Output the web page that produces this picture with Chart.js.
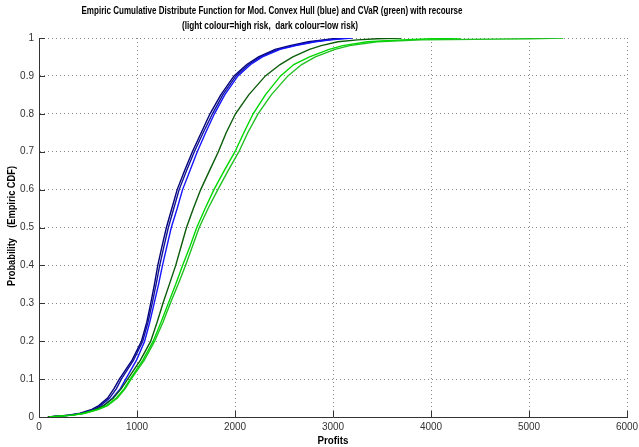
<!DOCTYPE html>
<html>
<head>
<meta charset="utf-8">
<script src="https://cdn.jsdelivr.net/npm/chart.js@4/dist/chart.umd.min.js"></script>
<style>
  html, body { margin: 0; padding: 0; background: #fff; }
  #wrap { width: 639px; height: 447px; position: relative; }
</style>
</head>
<body>
<div id="wrap"><canvas id="c" width="639" height="447"></canvas></div>
<script>
// Probability levels (empirical CDF heights)
const probs = [0, 0.005, 0.01, 0.02, 0.03, 0.05, 0.075, 0.1, 0.15, 0.2, 0.25, 0.3, 0.35, 0.4, 0.45, 0.5,
               0.55, 0.6, 0.65, 0.7, 0.75, 0.8, 0.85, 0.9, 0.93, 0.95, 0.97, 0.98, 0.99, 0.995, 0.998, 1];

// Profits at which each curve reaches the level above
const blueDark1  = [90, 300, 420, 540, 610, 700, 765, 820, 950, 1045, 1100, 1140, 1178, 1212, 1255, 1300,
                    1355, 1410, 1485, 1565, 1655, 1745, 1855, 1990, 2120, 2240, 2410, 2560, 2750, 2900, 3000, 3100];
const blueDark2  = [100, 320, 440, 560, 630, 720, 790, 840, 965, 1058, 1112, 1155, 1195, 1232, 1275, 1320,
                    1375, 1430, 1505, 1585, 1675, 1770, 1875, 2010, 2140, 2260, 2440, 2600, 2800, 2950, 3050, 3150];
const blueLight  = [110, 330, 450, 580, 660, 750, 830, 885, 995, 1078, 1130, 1175, 1220, 1260, 1305, 1350,
                    1410, 1465, 1540, 1615, 1700, 1790, 1895, 2030, 2160, 2280, 2460, 2620, 2820, 2980, 3100, 3200];
const greenDark  = [90, 330, 450, 580, 660, 760, 840, 905, 1035, 1140, 1205, 1265, 1330, 1395, 1450, 1505,
                    1575, 1650, 1740, 1830, 1910, 2005, 2140, 2310, 2460, 2590, 2760, 2880, 3050, 3250, 3450, 3700];
const greenLight1 = [100, 340, 460, 600, 690, 790, 870, 930, 1060, 1165, 1245, 1320, 1395, 1465, 1540, 1610,
                    1695, 1785, 1890, 2000, 2090, 2185, 2310, 2465, 2600, 2760, 2960, 3100, 3350, 3700, 4000, 4300];
const greenLight2 = [110, 350, 470, 610, 700, 800, 880, 940, 1075, 1180, 1265, 1340, 1420, 1495, 1565, 1635,
                    1725, 1825, 1930, 2040, 2130, 2235, 2370, 2540, 2680, 2820, 3020, 3170, 3450, 3900, 5000, 5350];

const xTickValues = [0, 1000, 2000, 3000, 4000, 5000, 6000];
const yTickValues = [0, 0.1, 0.2, 0.3, 0.4, 0.5, 0.6, 0.7, 0.8, 0.9, 1];

const titleLine1 = 'Empiric Cumulative Distribute Function for Mod. Convex Hull (blue) and CVaR (green) with recourse';
const titleLine2 = '(light colour=high risk,  dark colour=low risk)';
const xTitle = 'Profits';
const yTitle = 'Probability    (Empiric CDF)';

function pts(xs) { return xs.map((x, i) => ({ x: x, y: probs[i] })); }

function ds(label, xs, color) {
  return { label, data: pts(xs), borderColor: color, backgroundColor: color,
           borderWidth: 1.4, pointRadius: 0, fill: false, tension: 0 };
}

const FONT = '"Liberation Sans", Arial, sans-serif';

const decor = {
  id: 'decor',
  afterDraw(chart) {
    const ctx = chart.ctx;
    const xs = chart.scales.x, ys = chart.scales.y;
    const ca = chart.chartArea;
    ctx.save();
    // inward tick marks
    ctx.strokeStyle = '#333';
    ctx.lineWidth = 1;
    ctx.beginPath();
    xTickValues.forEach(v => {
      const px = Math.round(xs.getPixelForValue(v)) + 0.5;
      ctx.moveTo(px, ca.bottom); ctx.lineTo(px, ca.bottom - 6);
    });
    yTickValues.forEach(v => {
      const py = Math.round(ys.getPixelForValue(v)) + 0.5;
      ctx.moveTo(ca.left, py); ctx.lineTo(ca.left + 6, py);
    });
    ctx.stroke();
    // titles
    ctx.fillStyle = '#000';
    ctx.textAlign = 'center';
    ctx.textBaseline = 'alphabetic';
    ctx.font = 'bold 11px ' + FONT;
    ctx.fillText(titleLine1, 272, 14, 381);
    ctx.fillText(titleLine2, 270, 29, 176);
    ctx.font = 'bold 10px ' + FONT;
    ctx.fillText(xTitle, 333, 444, 31);
    ctx.translate(15, 226);
    ctx.rotate(-Math.PI / 2);
    ctx.fillText(yTitle, 0, 0, 120);
    ctx.restore();
  }
};

new Chart(document.getElementById('c'), {
  type: 'line',
  data: {
    datasets: [
      ds('CVaR high risk 1', greenLight1, '#00d800'),
      ds('CVaR high risk 2', greenLight2, '#20c020'),
      ds('CVaR low risk', greenDark, '#0a5c0a'),
      ds('MCH high risk', blueLight, '#1414ff'),
      ds('MCH low risk 2', blueDark2, '#10109a'),
      ds('MCH low risk 1', blueDark1, '#000078')
    ]
  },
  options: {
    responsive: false,
    animation: false,
    layout: { padding: { top: 38, right: 12, left: 0, bottom: 0 } },
    plugins: { legend: { display: false }, title: { display: false }, tooltip: { enabled: false } },
    scales: {
      x: {
        type: 'linear', min: 0, max: 6000,
        afterFit(s) { s.height = 30; s.paddingRight = 0; s.paddingLeft = 0; },
        afterBuildTicks(s) { s.ticks = xTickValues.map(v => ({ value: v })); },
        ticks: { font: { family: FONT, size: 10 }, color: '#333', padding: 4, maxRotation: 0,
                 callback: v => String(v) },
        grid: { color: '#888', lineWidth: 1, drawTicks: false, tickLength: 0 },
        border: { display: true, color: '#333', width: 1, dash: [1, 3] },
        title: { display: false }
      },
      y: {
        type: 'linear', min: 0, max: 1,
        afterFit(s) { s.width = 39; s.paddingTop = 0; s.paddingBottom = 0; },
        afterBuildTicks(s) { s.ticks = yTickValues.map(v => ({ value: v })); },
        ticks: { font: { family: FONT, size: 10 }, color: '#333', padding: 5,
                 callback: v => String(Math.round(v * 10) / 10) },
        grid: { color: '#888', lineWidth: 1, drawTicks: false, tickLength: 0 },
        border: { display: true, color: '#333', width: 1, dash: [1, 3] },
        title: { display: false }
      }
    }
  },
  plugins: [decor]
});
</script>
</body>
</html>
